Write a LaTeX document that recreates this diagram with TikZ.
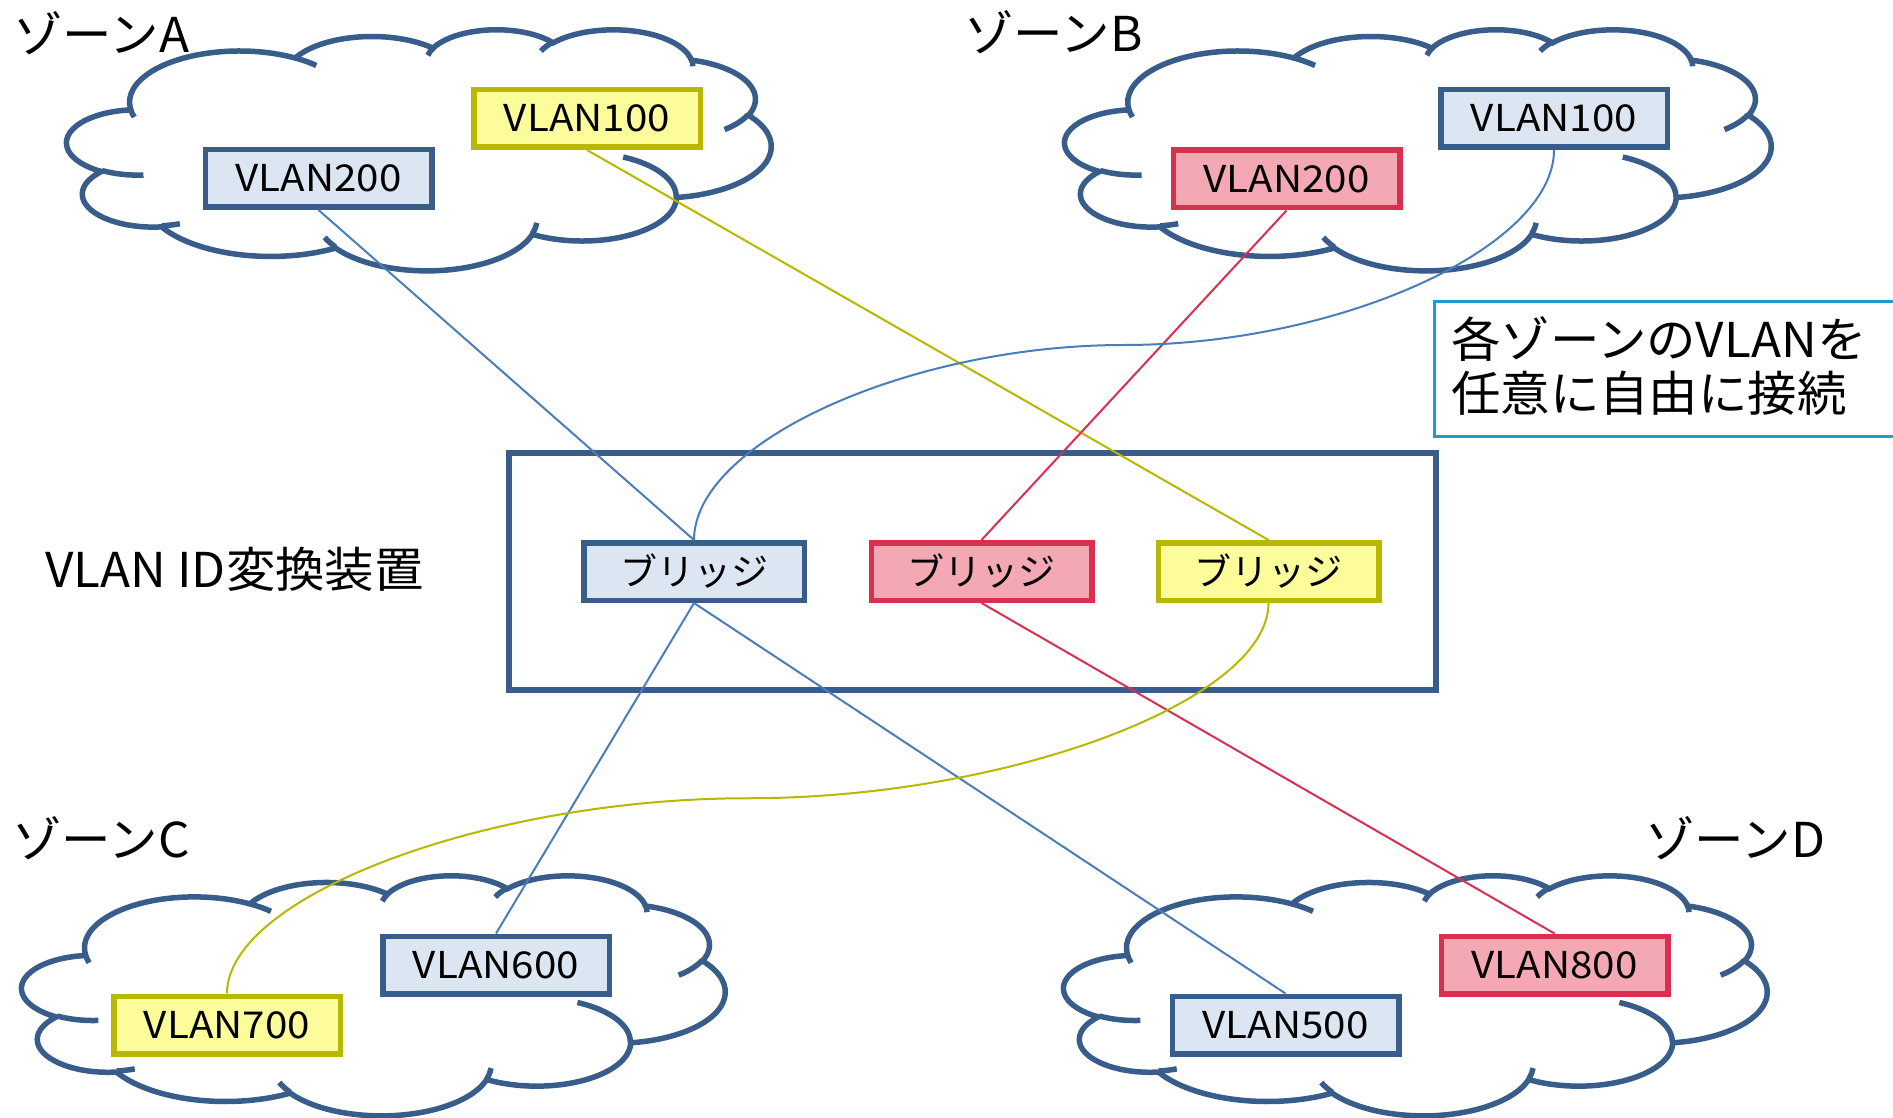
\documentclass[tikz,border=0pt]{standalone}
\usepackage{fontspec}
\newfontfamily\jp{Noto Sans CJK JP}
\newfontfamily\jpw[FakeStretch=1.09]{Noto Sans CJK JP}
\newfontfamily\jpl[FakeStretch=1.03]{Noto Sans CJK JP}
\usetikzlibrary{calc}
\definecolor{dkblue}{HTML}{385D8A}
\definecolor{fillblue}{HTML}{DCE6F2}
\definecolor{linblue}{HTML}{4A7EBB}
\definecolor{fillred}{HTML}{F4A8B4}
\definecolor{dkred}{HTML}{D93050}
\definecolor{fillyel}{HTML}{FCFC9A}
\definecolor{dkyel}{HTML}{B8B800}
\definecolor{tbblue}{HTML}{1E9AD0}
\newcommand{\vlfont}{\jpw\fontsize{37}{44}\selectfont}
\newcommand{\brfont}{\jp\fontsize{37}{44}\selectfont}
\newcommand{\lbfont}{\jpl\fontsize{48}{56}\selectfont}
\pgfmathdeclarefunction{vang}{3}{\pgfmathparse{atan2(#2*sin(#1),#3*cos(#1))}}
\pgfmathdeclarefunction{vdel}{4}{\pgfmathparse{mod(vang(#1+#2,#3,#4)-vang(#1,#3,#4)+720,360)}}
\newcommand{\mycloud}[4]{%
\begin{scope}[shift={(#1,#2)}, xscale=#3/432, yscale=#4/432]
\draw[cloudline, fill=white] (39,143.7)
 arc[start angle={vang(-190.4875,67.53,91.90)}, delta angle={vdel(-190.4875,123.7805,67.53,91.90)}, x radius=67.53, y radius=91.90]
 arc[start angle={vang(-144.1024,53.33,72.67)}, delta angle={vdel(-144.1024,89.9452,53.33,72.67)}, x radius=53.33, y radius=72.67]
 arc[start angle={vang(-145.8079,43.65,59.45)}, delta angle={vdel(-145.8079,99.7230,43.65,59.45)}, x radius=43.65, y radius=59.45]
 arc[start angle={vang(-130.9861,48.57,65.95)}, delta angle={vdel(-130.9861,117.2417,48.57,65.95)}, x radius=48.57, y radius=65.95]
 arc[start angle={vang(-78.7089,53.33,72.73)}, delta angle={vdel(-78.7089,109.0269,53.33,72.73)}, x radius=53.33, y radius=72.73]
 arc[start angle={vang(-46.2673,67.75,92.20)}, delta angle={vdel(-46.2673,130.2690,67.75,92.20)}, x radius=67.75, y radius=92.20]
 arc[start angle={vang(0.6250,57.85,78.67)}, delta angle={vdel(0.6250,114.0333,57.85,78.67)}, x radius=57.85, y radius=78.67]
 arc[start angle={vang(22.4516,67.52,92.15)}, delta angle={vdel(22.4516,115.1726,67.52,92.15)}, x radius=67.52, y radius=92.15]
 arc[start angle={vang(66.2426,77.20,105.43)}, delta angle={vdel(66.2426,75.7110,77.20,105.43)}, x radius=77.20, y radius=105.43]
 arc[start angle={vang(-274.9421,43.60,59.18)}, delta angle={vdel(-274.9421,146.7356,43.60,59.18)}, x radius=43.60, y radius=59.18]
 arc[start angle={vang(-246.8285,43.45,59.45)}, delta angle={vdel(-246.8285,152.5189,43.45,59.45)}, x radius=43.45, y radius=59.45]
 -- cycle;
\draw[cloudline]
 (46.93,261.77) arc[start angle={vang(86.7420,43.45,59.45)}, delta angle={vdel(86.7420,26.4295,43.45,59.45)}, x radius=43.45, y radius=59.45]
 (69.28,348.99) arc[start angle={vang(73.6105,43.60,59.18)}, delta angle={vdel(73.6105,11.4475,43.60,59.18)}, x radius=43.60, y radius=59.18]
 (164.78,390.90) arc[start angle={vang(137.6242,67.52,92.15)}, delta angle={vdel(137.6242,14.0811,67.52,92.15)}, x radius=67.52, y radius=92.15]
 (288.27,347.51) arc[start angle={vang(6.4533,67.52,92.15)}, delta angle={vdel(6.4533,15.9984,67.52,92.15)}, x radius=67.52, y radius=92.15]
 (341.29,229.54) arc[start angle={vang(-70.2924,57.85,78.67)}, delta angle={vdel(-70.2924,70.9174,57.85,78.67)}, x radius=57.85, y radius=78.67]
 (417.98,153.54) arc[start angle={vang(30.3180,53.33,72.73)}, delta angle={vdel(30.3180,27.7515,53.33,72.73)}, x radius=53.33, y radius=72.73]
 (383.24,54.26) arc[start angle={vang(-13.7443,48.57,65.95)}, delta angle={vdel(-13.7443,14.8589,48.57,65.95)}, x radius=48.57, y radius=65.95]
 (290.78,39.52) arc[start angle={vang(-149.1815,48.57,65.95)}, delta angle={vdel(-149.1815,18.1954,48.57,65.95)}, x radius=48.57, y radius=65.95]
 (221.41,47.20) arc[start angle={vang(-163.4943,43.65,59.45)}, delta angle={vdel(-163.4943,17.6864,43.65,59.45)}, x radius=43.65, y radius=59.45]
 (140.00,51.92) arc[start angle={vang(-66.7070,67.53,91.90)}, delta angle={vdel(-66.7070,12.3194,67.53,91.90)}, x radius=67.53, y radius=91.90]
 (41.27,157.89) arc[start angle={vang(157.6544,67.53,91.90)}, delta angle={vdel(157.6544,11.8582,67.53,91.90)}, x radius=67.53, y radius=91.90];
\end{scope}}
\begin{document}
\begin{tikzpicture}[x=1pt,y=-1pt,
  cloudline/.style={draw=dkblue, line width=5.5pt},
  vbox/.style={font=\vlfont, minimum width=226.5, minimum height=57.5, inner sep=0pt, line width=5.5pt},
  bluebox/.style={vbox, fill=fillblue, draw=dkblue},
  redbox/.style={vbox, fill=fillred, draw=dkred},
  yelbox/.style={vbox, fill=fillyel, draw=dkyel},
  brbox/.style={minimum width=220.5, font=\brfont},
  lab/.style={font=\lbfont, inner sep=0pt, anchor=base west},
  bconn/.style={draw=linblue, line width=2pt},
  rconn/.style={draw=dkred, line width=2pt},
  yconn/.style={draw=dkyel, line width=2pt}]
\useasboundingbox (0,0) rectangle (1893,1118);
\fill[white] (0,0) rectangle (1893,1118);

\mycloud{67}{29}{704}{241}
\mycloud{1065}{29}{706}{241}
\mycloud{22}{875}{703}{240}
\mycloud{1064}{875}{703}{240}

\node[lab] (zA) at (13,53) {ゾーンA};
\node[lab] (zB) at (964,52) {ゾーンB};
\node[lab] (zC) at (12,857) {ゾーンC};
\node[lab] (zD) at (1645,857) {ゾーンD};
\node[lab] (dl) at (45,587) {VLAN ID変換装置};

\node[draw=dkblue, line width=6pt, minimum width=927, minimum height=237, inner sep=0pt] (dev) at (972.5,571.5) {};

\node[draw=tbblue, line width=2.5pt, fill=white, minimum width=470, minimum height=135, inner sep=0pt, anchor=north west] (tb) at (1433,300) {};
\node[lab] (t1) at (1451,357) {各ゾーンのVLANを};
\node[lab] (t2) at (1451,411) {任意に自由に接続};

% boxes
\node[bluebox] (A200) at (318.5,178.5) {VLAN200};
\node[yelbox] (A100) at (587,118.5) {VLAN100};
\node[redbox] (B200) at (1286.5,179) {VLAN200};
\node[bluebox] (B100) at (1554,118.5) {VLAN100};
\node[bluebox, brbox] (br1) at (694,571.5) {ブリッジ};
\node[redbox, brbox] (br2) at (981.5,571.5) {ブリッジ};
\node[yelbox, brbox] (br3) at (1268.5,571.5) {ブリッジ};
\node[yelbox] (C700) at (227,1025) {VLAN700};
\node[bluebox] (C600) at (496,965) {VLAN600};
\node[redbox] (D800) at (1554.5,965) {VLAN800};
\node[bluebox] (D500) at (1285.5,1025) {VLAN500};

% connectors
\coordinate (m1) at ($(B100.south)!0.5!(br1.north)$);
\coordinate (m2) at ($(br3.south)!0.5!(C700.north)$);
\draw[bconn] (A200.south) -- (br1.north);
\draw[yconn] (A100.south) -- (br3.north);
\draw[rconn] (B200.south) -- (br2.north);
\draw[bconn] (B100.south) .. controls +(0,97.5) and +(215,0) .. (m1)
  .. controls +(-215,0) and +(0,-97.5) .. (br1.north);
\draw[bconn] (br1.south) -- (C600.north);
\draw[bconn] (br1.south) -- (D500.north);
\draw[rconn] (br2.south) -- (D800.north);
\draw[yconn] (br3.south) .. controls +(0,97.5) and +(260,0) .. (m2)
  .. controls +(-260,0) and +(0,-97.5) .. (C700.north);
\end{tikzpicture}
\end{document}
